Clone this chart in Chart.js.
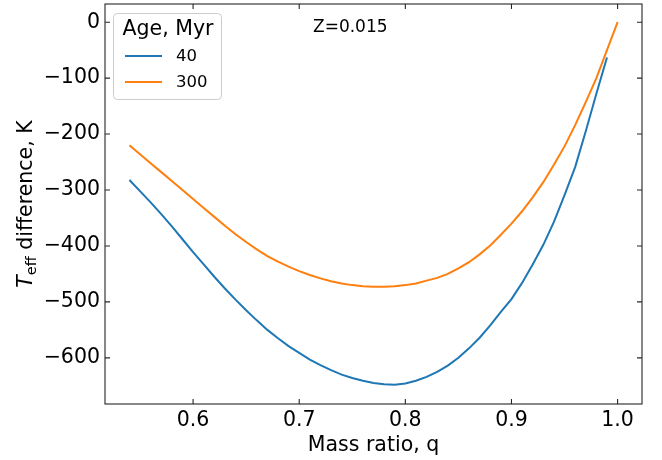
<!DOCTYPE html>
<html><head><meta charset="utf-8">
<script src="https://cdn.jsdelivr.net/npm/chart.js@4.4.1/dist/chart.umd.min.js"></script>
<style>html,body{margin:0;padding:0;background:#fff}#c{display:block}</style>
</head><body>
<canvas id="c" width="662" height="460"></canvas>
<script>
const q40 = [0.54,0.55,0.56,0.57,0.58,0.59,0.60,0.61,0.62,0.63,0.64,0.65,0.66,0.67,0.68,0.69,0.70,0.71,0.72,0.73,0.74,0.75,0.76,0.77,0.78,0.79,0.80,0.81,0.82,0.83,0.84,0.85,0.86,0.87,0.88,0.89,0.90,0.91,0.92,0.93,0.94,0.95,0.96,0.97,0.98,0.99];
const t40 = [-282,-302,-322,-343,-365,-388,-411,-433,-455,-476,-496,-515,-533,-550,-565,-579,-591,-603,-613,-622,-630,-636,-641,-645,-647,-648,-646,-641,-634,-625,-614,-600,-583,-564,-542,-518,-495,-466,-433,-398,-357,-309,-259,-195,-128,-63];
const q300 = [0.54,0.55,0.56,0.57,0.58,0.59,0.60,0.61,0.62,0.63,0.64,0.65,0.66,0.67,0.68,0.69,0.70,0.71,0.72,0.73,0.74,0.75,0.76,0.77,0.78,0.79,0.80,0.81,0.82,0.83,0.84,0.85,0.86,0.87,0.88,0.89,0.90,0.91,0.92,0.93,0.94,0.95,0.96,0.97,0.98,0.99,1.00];
const t300 = [-220,-236,-252,-268,-284,-300,-316,-332,-348,-364,-379,-393,-406,-418,-428,-437,-445,-452,-458,-463,-467,-470,-472,-473,-473,-472,-470,-467,-462,-457,-450,-440,-429,-415,-399,-380,-360,-338,-313,-286,-255,-222,-184,-143,-100,-50,0];
const xTicks = [0.6,0.7,0.8,0.9,1.0];
const yTicks = [-600,-500,-400,-300,-200,-100,0];
const seriesLabels = ['40','300'];
const legendTitle = 'Age, Myr';
const noteText = 'Z=0.015';
const xTitle = 'Mass ratio, q';
const yTitleMain = 'T', yTitleSub = 'eff', yTitleRest = ' difference, K';

const FONT = "'DejaVu Sans', sans-serif";
const colors = ['#1f77b4', '#ff7f0e'];

function pts(xs, ys) { return xs.map((x, i) => ({x: x, y: ys[i]})); }

const framePlugin = {
  id: 'frame',
  afterDatasetsDraw(chart) {
    const ctx = chart.ctx, a = chart.chartArea;
    const xs = chart.scales.x, ys = chart.scales.y;
    ctx.save();
    ctx.strokeStyle = '#262626';
    ctx.lineWidth = 1.1;
    ctx.strokeRect(a.left, a.top, a.right - a.left, a.bottom - a.top);
    ctx.beginPath();
    const L = 5;
    xs.ticks.forEach(t => {
      const px = xs.getPixelForValue(t.value);
      ctx.moveTo(px, a.bottom); ctx.lineTo(px, a.bottom - L);
      ctx.moveTo(px, a.top); ctx.lineTo(px, a.top + L);
    });
    ys.ticks.forEach(t => {
      const py = ys.getPixelForValue(t.value);
      ctx.moveTo(a.left, py); ctx.lineTo(a.left + L, py);
      ctx.moveTo(a.right, py); ctx.lineTo(a.right - L, py);
    });
    ctx.stroke();

    // note
    ctx.fillStyle = '#000';
    ctx.font = "17px " + FONT;
    ctx.textBaseline = 'middle';
    ctx.textAlign = 'left';
    ctx.fillText(noteText, 313, 28);

    // legend
    const bx = 113, by = 13, bw = 108, bh = 86;
    ctx.beginPath();
    ctx.roundRect(bx + 0.5, by + 0.5, bw, bh, 4);
    ctx.fillStyle = 'rgba(255,255,255,0.8)';
    ctx.fill();
    ctx.strokeStyle = '#cccccc';
    ctx.lineWidth = 1;
    ctx.stroke();
    ctx.fillStyle = '#000';
    ctx.font = "20.5px " + FONT;
    ctx.textAlign = 'center';
    ctx.fillText(legendTitle, bx + bw / 2 + 1, 30);
    ctx.font = "16.5px " + FONT;
    ctx.textAlign = 'left';
    chart.data.datasets.forEach((ds, i) => {
      const y = 56 + i * 26;
      ctx.strokeStyle = ds.borderColor;
      ctx.lineWidth = 2;
      ctx.beginPath();
      ctx.moveTo(125, y); ctx.lineTo(162, y);
      ctx.stroke();
      ctx.fillStyle = '#000';
      ctx.fillText(ds.label, 176, y + 1);
    });

    // y title
    ctx.save();
    ctx.translate(25, (a.top + a.bottom) / 2);
    ctx.rotate(-Math.PI / 2);
    const fMain = "italic 20.5px " + FONT, fSub = "14.5px " + FONT, fRest = "20.5px " + FONT;
    ctx.font = fMain; const w1 = ctx.measureText(yTitleMain).width;
    ctx.font = fSub; const w2 = ctx.measureText(yTitleSub).width;
    ctx.font = fRest; const w3 = ctx.measureText(yTitleRest).width;
    let x0 = -(w1 + w2 + w3) / 2;
    ctx.textAlign = 'left';
    ctx.textBaseline = 'alphabetic';
    ctx.fillStyle = '#000';
    ctx.font = fMain; ctx.fillText(yTitleMain, x0, 7); x0 += w1;
    ctx.font = fSub; ctx.fillText(yTitleSub, x0, 11); x0 += w2;
    ctx.font = fRest; ctx.fillText(yTitleRest, x0, 7);
    ctx.restore();
    ctx.restore();
  }
};

new Chart(document.getElementById('c'), {
  type: 'line',
  data: {
    datasets: [
      { label: seriesLabels[0], data: pts(q40, t40), borderColor: colors[0], backgroundColor: colors[0], borderWidth: 2, pointRadius: 0, tension: 0, fill: false },
      { label: seriesLabels[1], data: pts(q300, t300), borderColor: colors[1], backgroundColor: colors[1], borderWidth: 2, pointRadius: 0, tension: 0, fill: false }
    ]
  },
  options: {
    responsive: false,
    animation: false,
    devicePixelRatio: 1,
    layout: { padding: { top: 4, right: 20, left: 0, bottom: 0 } },
    plugins: { legend: { display: false }, tooltip: { enabled: false } },
    scales: {
      x: {
        type: 'linear', min: 0.517, max: 1.023,
        afterBuildTicks: s => { s.ticks = xTicks.map(v => ({value: v})); },
        afterFit: s => { s.height = 56; s.paddingLeft = 0; s.paddingRight = 0; },
        grid: { display: false, drawTicks: false },
        border: { display: false },
        ticks: { color: '#000', font: { family: FONT, size: 20.5 }, padding: 4, maxRotation: 0,
          callback: v => v.toFixed(1) },
        title: { display: true, text: xTitle, color: '#000', font: { family: FONT, size: 20.5 }, padding: { top: 0, bottom: 2 } }
      },
      y: {
        type: 'linear', min: -682.5, max: 32.5,
        afterBuildTicks: s => { s.ticks = yTicks.map(v => ({value: v})); },
        afterFit: s => { s.width = 105; s.paddingTop = 0; s.paddingBottom = 0; },
        grid: { display: false, drawTicks: false },
        border: { display: false },
        ticks: { color: '#000', font: { family: FONT, size: 20.5 }, padding: 5,
          callback: v => (v < 0 ? '\u2212' + Math.abs(v) : String(v)) }
      }
    }
  },
  plugins: [framePlugin]
});
</script>
</body></html>
